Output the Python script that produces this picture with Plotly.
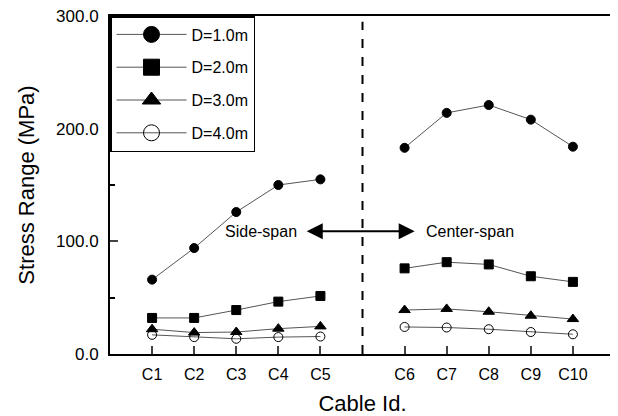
import plotly.graph_objects as go

cables = ["C1", "C2", "C3", "C4", "C5", "C6", "C7", "C8", "C9", "C10"]
xpos = [1, 2, 3, 4, 5, 7, 8, 9, 10, 11]
d1 = [66, 94, 126, 150, 155, 183, 214, 221, 208, 184]
d2 = [32, 32, 39, 46.5, 51.5, 76, 81.5, 79.5, 69, 64]
d3 = [22, 19, 19.5, 22.5, 24.5, 39, 40, 37.5, 34, 31]
d4 = [17, 15, 13.5, 15, 15.5, 24, 23.5, 22, 19.5, 17.5]
names = ["D=1.0m", "D=2.0m", "D=3.0m", "D=4.0m"]
series = [d1, d2, d3, d4]
symbols = ["circle", "square", "triangle-up", "circle-open"]
sizes = [9, 9, 10, 9]

fig = go.Figure()
for name, ys, sym, sz in zip(names, series, symbols, sizes):
    # side-span and center-span drawn as separate segments
    for sl in (slice(0, 5), slice(5, 10)):
        fig.add_trace(go.Scatter(
            x=xpos[sl], y=ys[sl], mode="lines+markers", showlegend=False,
            line=dict(color="#555555", width=1),
            marker=dict(symbol=sym, size=sz, color="black",
                        line=dict(color="black", width=1)),
        ))
for name, sym in zip(names, symbols):
    fig.add_trace(go.Scatter(
        x=[None], y=[None], mode="lines+markers", name=name, legendgroup=name,
        line=dict(color="#555555", width=1),
        marker=dict(symbol=sym, size=16, color="black",
                    line=dict(color="black", width=1)),
    ))

fig.add_shape(type="line", x0=6, x1=6, y0=0, y1=295, xref="x", yref="y",
              line=dict(color="black", width=2, dash="dash"))

fig.add_annotation(x=7.24, y=109, ax=4.64, ay=109, xref="x", yref="y",
                   axref="x", ayref="y", showarrow=True, arrowhead=2,
                   arrowside="end+start", arrowsize=1.6, arrowwidth=2,
                   arrowcolor="black", text="")
fig.add_annotation(x=4.5, y=109, text="Side-span", showarrow=False,
                   xanchor="right", font=dict(size=16, color="black"))
fig.add_annotation(x=7.45, y=109, text="Center-span", showarrow=False,
                   xanchor="left", font=dict(size=16, color="black"))

# page body adds an 8px offset; compensate so the plot area sits at x 110-615, y 16-354
fig.update_layout(
    width=610, height=408,
    margin=dict(l=102, r=3, t=8, b=62),
    plot_bgcolor="white", paper_bgcolor="white",
    font=dict(family="Liberation Sans, Arial, sans-serif", color="black", size=16),
    legend=dict(x=0, y=1, xanchor="left", yanchor="top",
                bordercolor="black", borderwidth=1.5, bgcolor="white",
                font=dict(size=16), itemwidth=70, tracegroupgap=9),
)
fig.update_xaxes(
    range=[0, 12], tickvals=xpos, ticktext=cables, ticks="inside", ticklen=8,
    tickwidth=1.5, showline=True, linecolor="black", linewidth=2, mirror=True,
    showgrid=False, zeroline=False, tickfont=dict(size=16), automargin=False,
    ticklabelstandoff=5,
    title=dict(text="Cable Id.", font=dict(size=22), standoff=13),
)
fig.update_yaxes(
    range=[0, 300], tickvals=[0, 100, 200, 300],
    ticktext=["0.0", "100.0", "200.0", "300.0"], ticks="inside", ticklen=8,
    tickwidth=1.5, showline=True, linecolor="black", linewidth=2, mirror=True,
    showgrid=False, zeroline=False, tickfont=dict(size=17), automargin=False,
    ticklabelstandoff=6, ticklabeloverflow="allow",
    minor=dict(tickvals=[50, 150, 250], ticks="inside", ticklen=5, tickwidth=1.5,
               tickcolor="black", showgrid=False),
    title=dict(text="Stress Range (MPa)", font=dict(size=22), standoff=15),
)

fig.write_html("out.html")
